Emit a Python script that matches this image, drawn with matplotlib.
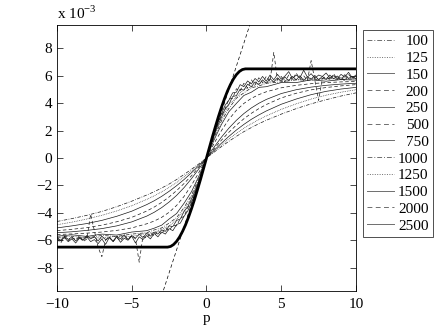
import numpy as np
import matplotlib
matplotlib.use("Agg")
import matplotlib.pyplot as plt

plt.rcParams['font.family'] = ['Liberation Serif', 'DejaVu Serif']
plt.rcParams['mathtext.fontset'] = 'custom'
plt.rcParams['mathtext.rm'] = 'Liberation Serif'
plt.rcParams['axes.unicode_minus'] = True

# ---------------- data (values in units of 1e-3) ----------------
p_coarse = [-10, -9, -8, -7, -6, -5, -4, -3.5, -3, -2.5, -2, -1.5, -1, -0.5, 0,
            0.5, 1, 1.5, 2, 2.5, 3, 3.5, 4, 5, 6, 7, 8, 9, 10]

v100 = [-4.63, -4.42, -4.18, -3.90, -3.55, -3.15, -2.70, -2.46, -2.19, -1.90, -1.57, -1.20, -0.82, -0.42, 0,
        0.42, 0.83, 1.22, 1.58, 1.92, 2.22, 2.50, 2.75, 3.20, 3.60, 3.95, 4.25, 4.52, 4.75]
v125 = [-4.87, -4.68, -4.45, -4.18, -3.86, -3.48, -3.02, -2.76, -2.47, -2.15, -1.79, -1.38, -0.94, -0.48, 0,
        0.48, 0.95, 1.39, 1.80, 2.17, 2.50, 2.80, 3.07, 3.55, 3.95, 4.30, 4.58, 4.80, 4.98]
v150 = [-5.10, -4.95, -4.78, -4.55, -4.25, -3.88, -3.40, -3.12, -2.80, -2.43, -2.02, -1.57, -1.07, -0.55, 0,
        0.55, 1.08, 1.58, 2.04, 2.45, 2.82, 3.14, 3.43, 3.92, 4.30, 4.62, 4.86, 5.03, 5.15]
v200 = [-5.30, -5.20, -5.08, -4.90, -4.65, -4.33, -3.87, -3.58, -3.24, -2.84, -2.38, -1.86, -1.29, -0.66, 0,
        0.66, 1.30, 1.88, 2.40, 2.86, 3.26, 3.60, 3.90, 4.38, 4.72, 4.97, 5.14, 5.26, 5.35]
v250 = [-5.45, -5.38, -5.28, -5.15, -4.95, -4.66, -4.24, -3.96, -3.62, -3.21, -2.73, -2.16, -1.50, -0.78, 0,
        0.78, 1.52, 2.18, 2.75, 3.24, 3.65, 3.99, 4.27, 4.70, 4.98, 5.17, 5.30, 5.39, 5.45]
v500 = [-5.58, -5.54, -5.48, -5.40, -5.28, -5.10, -4.80, -4.60, -4.33, -3.96, -3.46, -2.80, -1.98, -1.04, 0,
        1.05, 2.00, 2.82, 3.48, 3.98, 4.35, 4.62, 4.83, 5.12, 5.30, 5.42, 5.50, 5.55, 5.58]
v750 = [-5.70, -5.60, -5.72, -5.55, -5.62, -5.40, -5.30, -5.12, -4.90, -4.45, -4.05, -3.30, -2.45, -1.30, 0,
        1.30, 2.45, 3.38, 3.98, 4.56, 4.80, 5.15, 5.20, 5.50, 5.50, 5.70, 5.60, 5.72, 5.68]
v1000 = [-5.78, -5.70, -5.82, -5.65, -5.72, -5.55, -5.45, -5.25, -5.10, -4.75, -4.35, -3.62, -2.70, -1.45, 0,
         1.45, 2.70, 3.62, 4.36, 4.75, 5.12, 5.25, 5.45, 5.55, 5.70, 5.68, 5.80, 5.72, 5.78]
v1250 = [-5.80, -5.88, -5.75, -5.85, -5.70, -5.72, -5.50, -5.42, -5.20, -4.95, -4.50, -3.85, -2.85, -1.55, 0,
         1.55, 2.85, 3.88, 4.45, 5.00, 5.18, 5.45, 5.50, 5.70, 5.70, 5.82, 5.75, 5.85, 5.80]

p_fine = np.linspace(-10, 10, 81)
v1500 = [-5.80, -6.00, -5.70, -5.95, -5.75, -6.05, -5.80, -5.95, -5.65, -5.90,
         -5.75, -6.05, -5.70, -5.95, -5.80, -6.10, -5.70, -5.90, -5.60, -5.95,
         -5.65, -5.85, -5.55, -5.80, -5.50, -5.70, -5.40, -5.55, -5.25, -5.35,
         -4.95, -5.00, -4.55, -4.45, -3.90, -3.55, -2.98, -2.35, -1.62, -0.82,
         0, 0.82, 1.62, 2.35, 2.98, 3.58, 3.92, 4.48, 4.55, 5.02,
         4.95, 5.38, 5.20, 5.55, 5.35, 5.70, 5.45, 5.78, 5.55, 5.85,
         5.60, 5.90, 5.65, 5.95, 5.70, 6.00, 5.65, 5.92, 5.75, 6.02,
         5.70, 5.95, 5.72, 6.05, 5.78, 5.98, 5.70, 6.08, 5.80, 5.95, 5.75]
v2000 = [-5.90, -6.20, -5.75, -6.05, -5.80, -6.00, -5.70, -6.10, -5.90, -4.10,
         -5.30, -6.50, -7.20, -6.00, -5.75, -6.10, -5.80, -6.05, -5.70, -5.95,
         -5.65, -5.90, -7.60, -5.70, -5.85, -5.45, -5.70, -5.30, -5.55, -5.10,
         -5.30, -4.90, -4.95, -4.40, -4.25, -3.62, -3.12, -2.47, -1.72, -0.87,
         0, 0.87, 1.72, 2.47, 3.12, 3.60, 4.30, 4.35, 5.05, 4.90,
         5.45, 5.10, 5.70, 5.35, 5.85, 5.50, 5.95, 5.60, 7.70, 5.70,
         5.95, 5.55, 6.05, 5.70, 6.20, 5.75, 6.00, 5.65, 7.10, 5.65,
         4.20, 5.80, 5.95, 5.70, 6.15, 5.75, 5.90, 5.60, 6.10, 5.80, 5.95]
v2500 = [-5.85, -6.05, -5.80, -6.10, -5.90, -6.20, -5.85, -6.00, -5.75, -6.10,
         -5.95, -6.25, -5.90, -6.30, -5.80, -6.05, -5.75, -6.15, -5.85, -6.00,
         -5.70, -6.20, -5.75, -5.95, -5.65, -5.90, -5.50, -5.75, -5.40, -5.55,
         -5.15, -5.30, -4.85, -4.75, -4.25, -3.85, -3.25, -2.60, -1.80, -0.92,
         0, 0.92, 1.80, 2.60, 3.22, 3.85, 4.22, 4.75, 4.80, 5.35,
         5.20, 5.62, 5.40, 5.80, 5.55, 5.95, 5.60, 6.05, 5.70, 6.10,
         5.75, 5.98, 6.30, 5.80, 6.05, 5.85, 6.40, 5.90, 6.15, 5.82,
         6.05, 5.95, 6.20, 5.85, 6.00, 5.80, 6.10, 5.90, 6.25, 5.85, 6.05]

p_thick = [-10, -2.6, -2.4, -2.2, -2.0, -1.8, -1.6, -1.4, -1.2, -1.0, -0.8, -0.6, -0.4, -0.2, 0,
           0.2, 0.4, 0.6, 0.8, 1.0, 1.2, 1.4, 1.6, 1.8, 2.0, 2.2, 2.4, 2.6, 10]
v_thick = [-6.5, -6.5, -6.45, -6.31, -6.08, -5.76, -5.35, -4.87, -4.31, -3.69, -3.02, -2.30, -1.56, -0.78, 0,
           0.78, 1.56, 2.30, 3.02, 3.69, 4.31, 4.87, 5.35, 5.76, 6.08, 6.31, 6.45, 6.5, 6.5]

p_lin = [-3.0, 3.0]
v_lin = [-10.05, 10.05]

labels = ['100', '125', '150', '200', '250', '500', '750', '1000', '1250', '1500', '2000', '2500']

# ---------------- figure ----------------
fig = plt.figure(figsize=(4.36, 3.28), dpi=100)
ax = fig.add_axes([0.1307, 0.1128, 0.6858, 0.8110])

dashdot = (0, (5, 2, 1, 2))
dotted = (0, (1, 1.5))
dashed = (0, (5, 3.5))
solid = '-'
styles = [dashdot, dotted, solid, dashed, solid, dashed, solid, dashdot, dotted, solid, dashed, solid]

series = [(p_coarse, v100), (p_coarse, v125), (p_coarse, v150), (p_coarse, v200),
          (p_coarse, v250), (p_coarse, v500), (p_coarse, v750), (p_coarse, v1000),
          (p_coarse, v1250), (p_fine, v1500), (p_fine, v2000), (p_fine, v2500)]

handles = []
for (px, vy), ls, lab in zip(series, styles, labels):
    h, = ax.plot(px, vy, color='#1a1a1a', lw=0.5, linestyle=ls, label=lab)
    handles.append(h)

ax.plot(p_thick, v_thick, color='black', lw=2.0, solid_capstyle='butt')
ax.plot(p_lin, v_lin, color='black', lw=0.5, linestyle=(0, (5, 3.5)))

ax.set_xlim(-10, 10)
ax.set_ylim(-9.7, 9.7)
ax.set_xticks([-10, -5, 0, 5, 10])
ax.set_yticks([-8, -6, -4, -2, 0, 2, 4, 6, 8])
ax.tick_params(direction='in', top=True, right=True, length=4, width=0.5, labelsize=11)
ax.tick_params(axis='x', pad=5)
ax.tick_params(axis='y', pad=3.5)
for s in ax.spines.values():
    s.set_linewidth(0.6)
ax.set_xlabel('p', fontsize=11, labelpad=1)
ax.text(0.0, 1.012, 'x 10$^{-3}$', transform=ax.transAxes, fontsize=11, ha='left', va='bottom')

leg = ax.legend(handles=handles, loc='upper left', bbox_to_anchor=(1.023, 0.981),
                fontsize=11, frameon=True, fancybox=False, edgecolor='black',
                handlelength=1.75, handletextpad=0.25, labelspacing=0.2,
                borderpad=0.3, borderaxespad=0.0)
leg.get_frame().set_linewidth(0.6)
for lh in leg.legend_handles:
    lh.set_color('#6e6e6e')
    lh.set_linewidth(0.7)

# right-align the legend labels (shift shorter labels right, in pixels)
fig.canvas.draw()
texts = leg.get_texts()
widths = [t.get_window_extent().width for t in texts]
wmax = max(widths)
for t, w in zip(texts, widths):
    t.set_position((wmax - w, 0))

fig.savefig('out.png', dpi=100)
